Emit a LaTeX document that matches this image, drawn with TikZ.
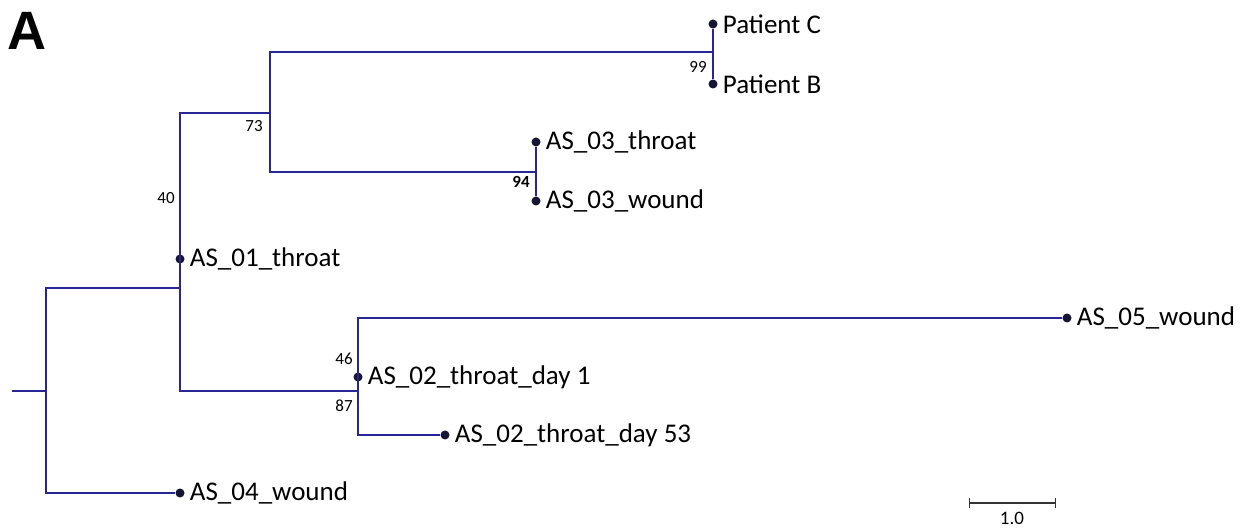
\documentclass[tikz,border=0pt]{standalone}
\usepackage{fontspec}
\setmainfont{Carlito}
\newfontfamily\panelfont{Liberation Sans}
\usepackage{tikz}
\usetikzlibrary{arrows.meta, positioning}
\definecolor{treeblue}{RGB}{40,38,150}
\definecolor{dotnavy}{RGB}{22,22,52}

\begin{document}
\begin{tikzpicture}[
  x=0.5pt, y=-0.5pt,
  node distance = 0.8pt,
  branch/.style  = {draw=treeblue, line width=1.15pt},
  tipdot/.style  = {circle, fill=dotnavy, inner sep=0pt, minimum size=4.5pt},
  tiplab/.style  = {font=\fontsize{13.5}{16}\selectfont, inner sep=1.5pt},
  boot/.style    = {font=\fontsize{8.5}{10}\selectfont, inner sep=0pt},
  scalebar/.style= {{Bar[width=5pt]}-{Bar[width=5pt]}, line width=0.7pt, black!80}
]
\useasboundingbox (0,0) rectangle (1241,528);

\node[font=\panelfont\bfseries\fontsize{27}{30}\selectfont, inner sep=0pt] (panel) at (27,31) {A};

% internal nodes
\coordinate (root) at (12,391);
\coordinate (n0)   at (46,391);
\coordinate (n1)   at (180,288);
\coordinate (n73)  at (270,113);
\coordinate (n99)  at (713,52);
\coordinate (n94)  at (536,172);
\coordinate (n46)  at (358,391);

% tips
\node[tipdot] (pc)   at (713,24)  {};
\node[tipdot] (pb)   at (713,84)  {};
\node[tipdot] (a3t)  at (536,142) {};
\node[tipdot] (a3w)  at (536,201) {};
\node[tipdot] (a1t)  at (180,259) {};
\node[tipdot] (a5w)  at (1067,318) {};
\node[tipdot] (a2d1) at (358,377) {};
\node[tipdot] (a2d53)at (445,435) {};
\node[tipdot] (a4w)  at (180,493) {};

\node[tiplab, right=of pc]    (pcl)   {Patient C};
\node[tiplab, right=of pb]    (pbl)   {Patient B};
\node[tiplab, right=of a3t]   (a3tl)  {AS\_03\_throat};
\node[tiplab, right=of a3w]   (a3wl)  {AS\_03\_wound};
\node[tiplab, right=of a1t]   (a1tl)  {AS\_01\_throat};
\node[tiplab, right=of a5w]   (a5wl)  {AS\_05\_wound};
\node[tiplab, right=of a2d1]  (a2d1l) {AS\_02\_throat\_day 1};
\node[tiplab, right=of a2d53] (a2d53l){AS\_02\_throat\_day 53};
\node[tiplab, right=of a4w]   (a4wl)  {AS\_04\_wound};

% branches
\draw[branch] (root) -- (n0);
\draw[branch] (n1) -| (n0) |- (a4w);
\draw[branch] (n73) -| (n1) |- (n46);
\draw[branch] (n99) -| (n73) |- (n94);
\draw[branch] (pc) -- (pb);
\draw[branch] (a3t) -- (a3w);
\draw[branch] (a5w) -| (n46) |- (a2d53);

% bootstrap values
\node[boot] (b99) at (698,67)  {99};
\node[boot] (b94) at (521,182) {\bfseries 94};
\node[boot] (b73) at (254,126) {73};
\node[boot] (b40) at (166,198) {40};
\node[boot] (b46) at (344,359) {46};
\node[boot] (b87) at (344,406) {87};

% scale
\coordinate (sbl) at (969,503);
\coordinate (sbr) at (1056,503);
\draw[scalebar] (sbl) -- (sbr);
\node[boot, font=\fontsize{9.5}{11}\selectfont] (sblab) at (1012,518) {1.0};
\end{tikzpicture}
\end{document}
